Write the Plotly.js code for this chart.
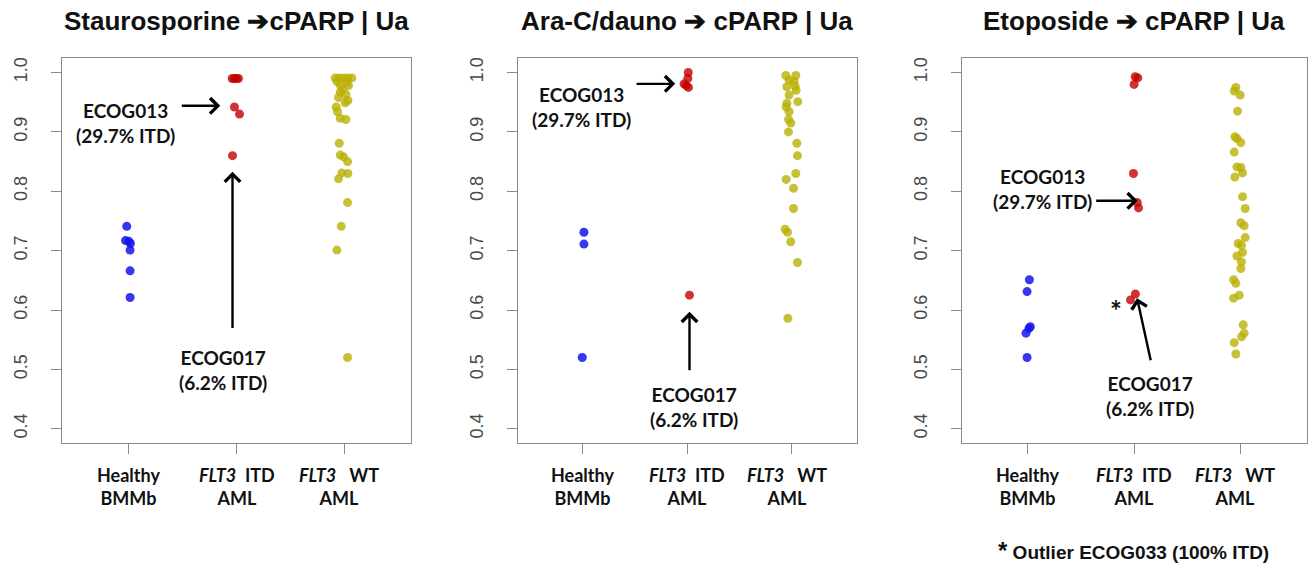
<!DOCTYPE html>
<html>
<head>
<meta charset="utf-8">
<script src="https://cdn.plot.ly/plotly-3.0.1.min.js"></script>
<style>html,body{margin:0;padding:0;background:#fff;}#chart{width:1308px;height:567px;}</style>
</head>
<body>
<div id="chart"></div>
<script>
// ---------------- DATA ----------------
const panelTitles = ["Staurosporine \u2794cPARP | Ua", "Ara-C/dauno \u2794 cPARP | Ua", "Etoposide \u2794 cPARP | Ua"];
const groupPos = [1, 2, 3];
const groupLabels = ["<b>Healthy<br>BMMb</b>", "<b><i>FLT3</i>\u00a0\u00a0ITD<br>AML</b>", "<b><i>FLT3</i>\u00a0\u00a0\u00a0WT<br>AML</b>"];
const yTickVals = [0.4, 0.5, 0.6, 0.7, 0.8, 0.9, 1.0];
const yTickText = ["0.4", "0.5", "0.6", "0.7", "0.8", "0.9", "1.0"];

// Staurosporine
const stauroHealthy    = [0.741, 0.717, 0.716, 0.712, 0.701, 0.666, 0.621];
const stauroHealthyJit = [-0.019, -0.030, 0.000, 0.015, 0.012, 0.012, 0.012];
const stauroITD        = [0.990, 0.990, 0.990, 0.990, 0.942, 0.930, 0.860];
const stauroITDJit     = [-0.040, -0.020, 0.000, 0.018, -0.019, 0.028, -0.037];
const stauroWT    = [0.991, 0.991, 0.991, 0.991, 0.991, 0.985, 0.984, 0.979, 0.978, 0.972, 0.967, 0.963, 0.958, 0.953, 0.949,
                     0.942, 0.934, 0.923, 0.921, 0.881, 0.861, 0.858, 0.850, 0.831, 0.830, 0.821, 0.781, 0.741, 0.701, 0.520];
const stauroWTJit = [-0.084, -0.046, -0.006, 0.034, 0.071, -0.068, 0.025, -0.037, 0.040, -0.015, -0.037, 0.015, -0.053, 0.034, 0.009,
                     -0.074, -0.062, -0.037, 0.015, -0.046, -0.037, -0.006, 0.031, -0.022, 0.034, -0.053, 0.031, -0.028, -0.068, 0.031];

// Ara-C / dauno
const araHealthy    = [0.731, 0.711, 0.520];
const araHealthyJit = [0.013, 0.013, -0.003];
const araITD        = [1.000, 0.990, 0.981, 0.978, 0.975, 0.625];
const araITDJit     = [0.010, 0.006, -0.030, -0.010, 0.012, 0.022];
const araWT    = [0.995, 0.995, 0.987, 0.985, 0.976, 0.977, 0.970, 0.962, 0.951, 0.948, 0.942, 0.934, 0.921, 0.915, 0.900,
                  0.881, 0.860, 0.830, 0.820, 0.805, 0.771, 0.736, 0.731, 0.715, 0.680, 0.586];
const araWTJit = [-0.057, 0.038, -0.026, 0.022, -0.048, 0.032, 0.041, -0.026, 0.057, -0.048, -0.054, -0.026, -0.032, -0.010, -0.032,
                  0.048, 0.054, 0.038, -0.054, 0.016, 0.016, -0.064, -0.041, -0.010, 0.054, -0.038];

// Etoposide
const etoHealthy    = [0.651, 0.631, 0.572, 0.569, 0.561, 0.520];
const etoHealthyJit = [0.016, -0.006, 0.025, 0.012, -0.016, -0.006];
const etoITD        = [0.993, 0.991, 0.980, 0.830, 0.781, 0.772, 0.627, 0.617];
const etoITDJit     = [0.010, 0.035, 0.000, -0.006, 0.030, 0.042, 0.012, -0.034];
const etoWT    = [0.975, 0.969, 0.962, 0.935, 0.892, 0.889, 0.882, 0.866, 0.841, 0.840, 0.831, 0.824, 0.791, 0.771, 0.747, 0.742,
                  0.722, 0.712, 0.709, 0.697, 0.691, 0.681, 0.670, 0.651, 0.645, 0.625, 0.620, 0.575, 0.561, 0.555, 0.545, 0.526];
const etoWTJit = [-0.044, -0.059, -0.003, -0.028, -0.053, -0.034, 0.003, -0.059, -0.034, 0.003, 0.019, -0.053, 0.019, 0.044, 0.003, 0.034,
                  0.044, -0.022, 0.009, 0.019, -0.034, 0.009, 0.003, -0.065, -0.044, -0.012, -0.065, 0.025, 0.034, 0.009, -0.059, -0.044];

const panels = [
  {values: [stauroHealthy, stauroITD, stauroWT], jit: [stauroHealthyJit, stauroITDJit, stauroWTJit]},
  {values: [araHealthy, araITD, araWT], jit: [araHealthyJit, araITDJit, araWTJit]},
  {values: [etoHealthy, etoITD, etoWT], jit: [etoHealthyJit, etoITDJit, etoWTJit]}
];

// ---------------- STYLE / LAYOUT ----------------
const W = 1308, H = 567;
const boxes = [[62, 411], [517.7, 856.7], [961.7, 1306.5]];
const yTop = 58.3, yBot = 443;
const colors = ["rgba(20,20,235,0.85)", "rgba(195,0,0,0.8)", "rgba(185,175,0,0.78)"];
const axisGray = "#8a8a8a";
const labelFont = {family: "Lato, 'Open Sans', sans-serif", size: 18, color: "#111"};
const noteFont = {family: "Lato, 'Open Sans', sans-serif", size: 19, color: "#111"};

const traces = [];
const layout = {
  width: W, height: H,
  margin: {l: 0, r: 0, t: 0, b: 0},
  paper_bgcolor: "#fff", plot_bgcolor: "#fff",
  showlegend: false,
  annotations: []
};

panels.forEach((p, i) => {
  const s = i === 0 ? "" : String(i + 1);
  const b = boxes[i];
  layout["xaxis" + s] = {
    domain: [b[0] / W, b[1] / W], range: [0.38, 3.62], anchor: "y" + s,
    tickvals: groupPos, ticktext: ["", "", ""],
    ticks: "outside", ticklen: 10, tickwidth: 1, tickcolor: axisGray,
    showline: true, mirror: true, linecolor: axisGray, linewidth: 1,
    showgrid: false, zeroline: false, fixedrange: true
  };
  layout["yaxis" + s] = {
    domain: [1 - yBot / H, 1 - yTop / H], range: [0.376, 1.024], anchor: "x" + s,
    tickvals: yTickVals, ticktext: yTickText, tickangle: -90,
    ticks: "outside", ticklen: 10, tickwidth: 1, tickcolor: axisGray,
    tickfont: {family: "'Liberation Sans', Arial, sans-serif", size: 18, color: "#4a4a4a"},
    ticklabelstandoff: 17,
    showline: true, mirror: true, linecolor: axisGray, linewidth: 1,
    showgrid: false, zeroline: false, fixedrange: true
  };
  p.values.forEach((vals, g) => {
    traces.push({
      type: "scatter", mode: "markers",
      x: p.jit[g].map(j => groupPos[g] + j), y: vals,
      xaxis: "x" + s, yaxis: "y" + s,
      marker: {size: 9, color: colors[g], line: {width: 0}},
      hoverinfo: "skip"
    });
  });
  // panel title
  layout.annotations.push({
    xref: "paper", yref: "paper", x: (b[0] + b[1]) / 2 / W, y: 1 - 21 / H,
    xanchor: "center", yanchor: "middle", showarrow: false,
    text: "<b>" + panelTitles[i] + "</b>",
    font: {family: "'Liberation Sans', Arial, sans-serif", size: 26, color: "#111"}
  });
  // group labels
  groupLabels.forEach((t, g) => {
    layout.annotations.push({
      xref: "x" + s, yref: "paper", x: groupPos[g] - (g === 2 ? 0.05 : 0), y: 1 - 486 / H,
      xanchor: "center", yanchor: "middle", showarrow: false, text: t, font: labelFont
    });
  });
});

function note(s, x, y, text, size) {
  layout.annotations.push({xref: "x" + s, yref: "y" + s, x: x, y: y, xanchor: "center", yanchor: "middle",
    showarrow: false, text: "<b>" + text + "</b>", font: Object.assign({}, noteFont, size ? {size: size} : {})});
}
function arrow(s, x, y, ax, ay) {
  layout.annotations.push({xref: "x" + s, yref: "y" + s, axref: "x" + s, ayref: "y" + s,
    x: x, y: y, ax: ax, ay: ay, text: "", showarrow: true,
    arrowhead: 4, arrowsize: 1.25, arrowwidth: 2.4, arrowcolor: "#000", standoff: 0, startstandoff: 0});
}
// Panel 1
note("", 0.967, 0.9156, "ECOG013<br>(29.7% ITD)");
arrow("", 1.849, 0.944, 1.478, 0.944);
note("", 1.877, 0.4997, "ECOG017<br>(6.2% ITD)");
arrow("", 1.963, 0.833, 1.963, 0.567);
// Panel 2
note("2", 0.986, 0.942, "ECOG013<br>(29.7% ITD)");
arrow("2", 1.885, 0.981, 1.502, 0.981);
note("2", 2.067, 0.4365, "ECOG017<br>(6.2% ITD)");
arrow("2", 2.022, 0.597, 2.022, 0.496);
// Panel 3
note("3", 1.135, 0.8034, "ECOG013<br>(29.7% ITD)");
arrow("3", 2.034, 0.784, 1.630, 0.784);
note("3", 2.152, 0.4558, "ECOG017<br>(6.2% ITD)");
arrow("3", 2.028, 0.620, 2.159, 0.513);
note("3", 1.832, 0.600, "*", 28);

// footnote
layout.annotations.push({
  xref: "paper", yref: "paper", x: 1133 / W, y: 1 - 550 / H, xanchor: "center", yanchor: "middle",
  showarrow: false, text: "<b><span style='font-size:24px'>*</span> Outlier ECOG033 (100% ITD)</b>",
  font: {family: "'Liberation Sans', Arial, sans-serif", size: 19, color: "#111"}
});

Plotly.newPlot("chart", traces, layout, {staticPlot: true, displayModeBar: false});
</script>
</body>
</html>
